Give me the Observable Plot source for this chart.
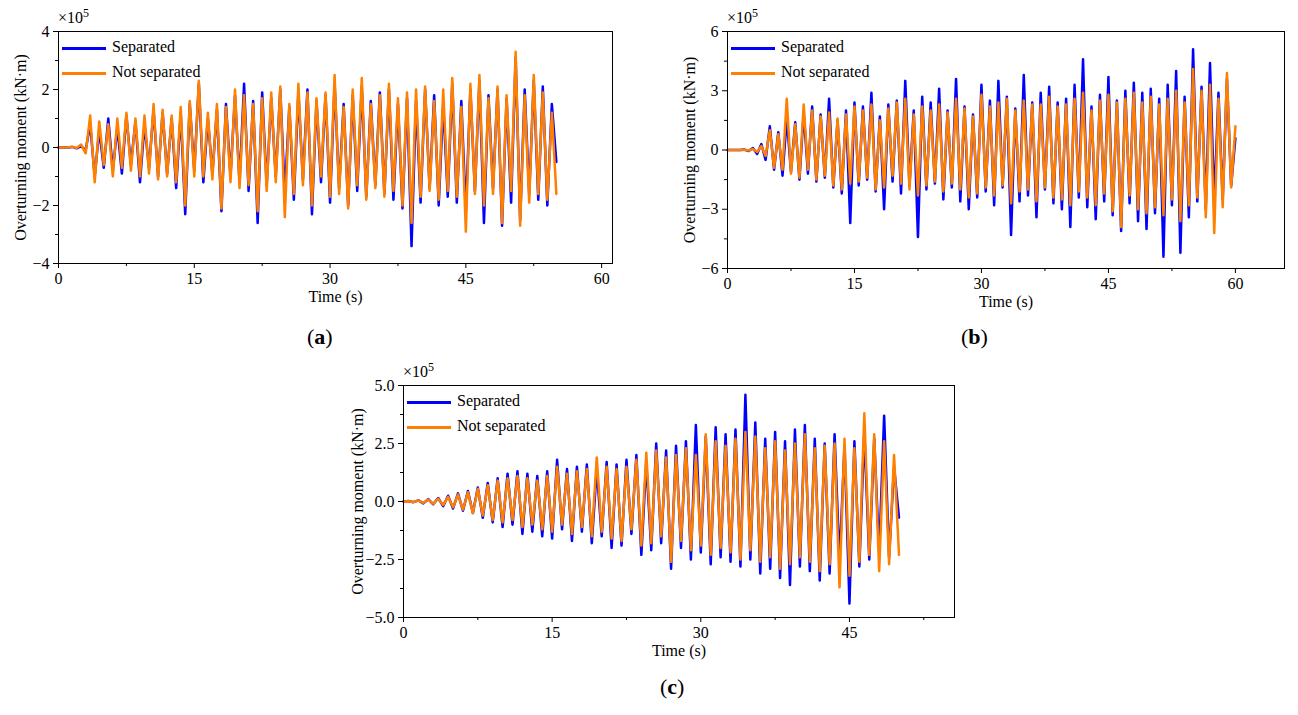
<!DOCTYPE html>
<html><head><meta charset="utf-8">
<script src="https://cdn.jsdelivr.net/npm/d3@7"></script>
<script src="https://cdn.jsdelivr.net/npm/@observablehq/plot@0.6"></script>
<style>
body{margin:0;background:#fff;font-family:"Liberation Serif",serif;}
#root{position:relative;width:1298px;height:715px;}
.p{position:absolute;}
.lab{position:absolute;font-size:22px;}
.exp{position:absolute;font-size:16px;}
.leg{position:absolute;font-size:16px;line-height:25px;}
.leg span{display:inline-block;width:44px;height:3px;vertical-align:middle;margin-right:6px;}
</style></head><body><div id="root"></div>
<script>
const step = 0.5;
const aSep=[0,0,0,0.02,-0.03,0.05,-0.1,0.8,-1.0,0.6,-0.7,1.0,-0.8,0.7,-0.9,1.1,-0.6,0.9,-1.2,0.8,-0.7,1.3,-1.0,1.2,-0.9,1.0,-1.4,1.2,-2.3,1.5,
-0.8,2.2,-1.2,1.0,-0.9,1.3,-2.2,1.5,-1.0,1.8,-1.2,2.2,-1.5,1.6,-2.6,1.9,-1.3,1.7,-1.0,2.0,-1.6,1.4,-1.8,1.9,-1.1,2.0,-2.3,1.6,-1.2,1.8,
-1.9,2.2,-1.4,1.5,-2.0,1.8,-1.5,2.1,-1.7,1.6,-1.3,1.9,-1.6,2.0,-1.8,1.5,-2.1,1.7,-3.4,1.6,-1.9,2.0,-1.4,1.8,-2.0,1.5,-1.7,2.2,-1.9,1.6,
-2.2,2.0,-1.5,2.3,-2.6,1.8,-1.4,2.0,-2.7,1.7,-1.9,3.1,-2.5,2.0,-1.6,2.3,-1.8,2.1,-2.0,1.5,-0.5];
const aNot=[0,0,0,0.03,-0.02,0.1,-0.2,1.1,-1.2,0.9,-0.6,0.8,-1.0,1.0,-0.7,1.2,-0.8,1.0,-1.0,1.1,-0.9,1.5,-1.1,1.3,-1.0,1.1,-1.2,1.4,-2.0,1.6,
-1.0,2.3,-1.0,1.2,-1.1,1.5,-2.1,1.4,-1.2,2.0,-1.4,1.8,-1.3,1.5,-2.2,1.7,-1.5,1.9,-1.2,2.1,-2.4,1.5,-1.6,2.2,-1.3,1.9,-2.0,1.7,-1.0,1.9,
-1.7,2.5,-1.6,1.4,-2.1,2.0,-1.3,2.4,-1.8,1.5,-1.4,1.8,-1.7,2.2,-1.5,1.7,-2.0,1.9,-2.6,2.0,-1.7,2.1,-1.5,1.6,-1.8,2.0,-1.5,2.4,-1.7,1.4,
-2.9,2.2,-1.6,2.5,-2.0,1.7,-1.6,2.1,-2.6,1.8,-1.5,3.3,-2.7,1.8,-1.9,2.5,-1.6,1.9,-1.8,1.2,-1.6];
const bSep=[0,0,0,0,0.02,-0.05,0.1,-0.2,0.3,-0.5,1.2,-1.0,0.9,-1.3,1.6,-1.1,1.4,-1.5,1.9,-1.2,2.2,-1.6,1.8,-1.4,2.6,-1.9,1.5,-2.2,2.0,-3.7,
2.4,-1.8,2.2,-1.5,2.9,-2.1,1.7,-3.0,2.3,-1.6,2.5,-2.2,3.5,-1.8,2.0,-4.4,2.7,-2.0,2.4,-1.7,3.1,-2.5,2.0,-1.9,3.6,-2.6,2.2,-3.0,1.8,-2.4,
3.3,-2.1,2.5,-2.8,3.5,-1.9,2.7,-4.3,2.1,-2.6,3.8,-2.3,2.4,-3.4,2.9,-2.0,3.2,-2.7,2.4,-3.0,2.6,-3.9,3.3,-2.4,4.6,-2.9,2.2,-3.5,2.8,-2.6,
3.7,-3.3,2.5,-4.1,3.0,-2.7,3.4,-3.6,2.9,-4.0,3.1,-3.2,2.6,-5.4,3.3,-2.8,4.0,-5.2,2.7,-3.4,5.1,-2.6,3.2,-3.0,4.4,-2.7,2.9,-2.5,3.6,-1.8,0.6];
const bNot=[0,0,0,0,0.01,-0.03,0.05,-0.1,0.2,-0.3,1.0,-0.9,0.8,-1.0,2.6,-1.2,1.3,-1.4,2.3,-1.0,2.0,-1.5,1.7,-1.3,1.9,-1.8,1.6,-2.0,1.8,-1.7,
2.2,-1.6,2.0,-1.4,2.3,-2.0,1.5,-1.9,2.1,-1.3,2.4,-1.7,2.6,-2.0,1.8,-2.3,2.2,-1.8,2.0,-1.6,2.3,-2.1,1.9,-1.7,2.6,-2.0,2.1,-2.4,1.7,-2.2,
2.8,-1.9,2.2,-2.3,2.4,-1.8,2.6,-2.7,2.0,-2.1,2.5,-2.0,2.3,-2.6,2.3,-1.9,2.7,-2.4,2.2,-2.5,2.3,-2.8,2.6,-2.1,2.9,-2.4,2.0,-2.8,2.5,-2.2,
2.8,-3.1,2.4,-3.9,2.6,-2.3,2.9,-3.0,2.4,-3.2,2.7,-2.9,2.3,-3.3,2.6,-2.5,3.0,-3.6,2.4,-2.8,4.1,-2.4,3.0,-3.4,3.3,-4.2,2.6,-2.9,3.9,-1.9,1.2];
const cSep=[0,0.02,-0.03,0.05,-0.08,0.1,-0.12,0.15,-0.2,0.25,-0.3,0.35,-0.4,0.45,-0.5,0.6,-0.7,0.8,-0.9,1.0,-1.1,1.2,-1.0,1.3,-1.4,1.2,-1.3,1.1,-1.5,1.3,
-1.6,1.8,-1.2,1.4,-1.7,1.5,-1.3,1.6,-1.8,1.4,-1.5,1.7,-2.0,1.6,-1.9,1.8,-1.4,2.0,-2.3,1.7,-2.1,2.5,-1.8,2.2,-2.9,2.4,-2.0,2.6,-2.5,3.3,
-2.2,2.8,-2.7,3.2,-2.4,2.9,-2.6,3.1,-2.8,4.6,-2.5,3.4,-3.1,2.7,-2.9,3.0,-3.3,2.6,-3.6,3.1,-2.8,3.3,-3.0,2.7,-3.4,2.5,-3.1,2.9,-2.6,2.4,
-4.4,2.6,-2.8,3.0,-2.5,2.7,-2.2,3.7,-2.4,1.5,-0.7];
const cNot=[0,0.01,-0.02,0.04,-0.06,0.08,-0.1,0.12,-0.15,0.2,-0.25,0.3,-0.35,0.4,-0.5,0.55,-0.6,0.7,-0.8,0.9,-0.9,1.0,-0.8,1.1,-1.1,1.0,-1.0,0.9,-1.2,1.1,
-1.3,1.5,-1.0,1.2,-1.4,1.3,-1.1,1.4,-1.5,1.9,-1.3,1.5,-1.6,1.4,-1.7,1.5,-1.2,1.8,-1.9,2.1,-1.8,2.2,-1.5,1.9,-2.6,2.0,-1.7,2.3,-2.1,2.0,
-1.9,2.9,-2.3,2.6,-2.0,2.4,-2.2,2.7,-2.5,3.0,-2.1,2.8,-2.6,2.3,-2.4,2.6,-2.9,2.2,-2.7,2.5,-2.4,2.9,-2.6,2.3,-3.0,2.4,-2.7,2.5,-3.7,2.7,
-3.2,2.3,-2.6,3.8,-2.3,2.9,-3.0,2.6,-2.7,2.0,-2.3];
const BLUE="#0000ff", ORANGE="#ff8000";

function panel(o){
  const rows = s=>s.map((v,i)=>({t:i*step,v}));
  const fmt = o.fmt || (d=>d3.format("d")(d));
  const minorX=o.xTicks.map(d=>d+7.5).filter(d=>d<o.xd[1]);
  const minorY=o.yTicks.slice(0,-1).map((d,i)=>(d+o.yTicks[i+1])/2);
  const p = Plot.plot({
    width:o.w, height:o.h, marginLeft:o.ml, marginTop:o.mt, marginRight:o.mr, marginBottom:o.mb,
    style:{fontFamily:"Liberation Serif",fontSize:"16px",color:"#000",background:"transparent"},
    x:{domain:o.xd}, y:{domain:o.yd},
    marks:[
      Plot.line(rows(o.sep),{x:"t",y:"v",stroke:BLUE,strokeWidth:2.5}),
      Plot.line(rows(o.not),{x:"t",y:"v",stroke:ORANGE,strokeWidth:2.5}),
      Plot.frame({stroke:"#000"}),
      Plot.axisX({ticks:o.xTicks,tickSize:5,fontSize:16,label:"Time (s)",labelAnchor:"center",labelArrow:"none",labelOffset:38}),
      Plot.axisX({ticks:minorX,tickSize:3,text:null,label:null}),
      Plot.axisY({ticks:o.yTicks,tickSize:5,tickFormat:fmt,fontSize:16,label:"Overturning moment (kN·m)",labelAnchor:"center",labelArrow:"none",labelOffset:o.lo}),
      Plot.axisY({ticks:minorY,tickSize:3,text:null,label:null})
    ]
  });
  const root=document.getElementById("root");
  const d=document.createElement("div"); d.className="p"; d.style.left=o.x+"px"; d.style.top=o.y+"px";
  d.appendChild(p); root.appendChild(d);
  const e=document.createElement("div"); e.className="exp"; e.style.left=(o.x+o.ml)+"px"; e.style.top=(o.y+o.mt-25)+"px";
  e.innerHTML="×10<sup style='font-size:12px'>5</sup>"; root.appendChild(e);
  const l=document.createElement("div"); l.className="leg"; l.style.left=(o.x+o.ml+4)+"px"; l.style.top=(o.y+o.mt+3)+"px";
  l.innerHTML=`<div><span style="background:${BLUE}"></span>Separated</div><div><span style="background:${ORANGE}"></span>Not separated</div>`;
  root.appendChild(l);
  const lb=document.createElement("div"); lb.className="lab"; lb.style.left=o.lx+"px"; lb.style.top=o.ly+"px";
  lb.innerHTML=`(<b>${o.tag}</b>)`; root.appendChild(lb);
}
panel({x:0,y:0,w:620,h:310,ml:58,mt:31,mr:8,mb:47,lo:44,sep:aSep,not:aNot,xd:[0,61.2],xTicks:[0,15,30,45,60],yd:[-4,4],yTicks:[-4,-2,0,2,4],tag:"a",lx:307,ly:324});
panel({x:669,y:0,w:620,h:315,ml:58,mt:31,mr:5,mb:47,lo:44,sep:bSep,not:bNot,xd:[0,65.8],xTicks:[0,15,30,45,60],yd:[-6,6],yTicks:[-6,-3,0,3,6],tag:"b",lx:961,ly:324});
panel({x:335,y:354,w:625,h:310,ml:68,mt:31,mr:6,mb:47,lo:52,sep:cSep,not:cNot,xd:[0,55.6],xTicks:[0,15,30,45],yd:[-5,5],yTicks:[-5,-2.5,0,2.5,5],fmt:d3.format(".1f"),tag:"c",lx:660,ly:674});
</script></body></html>
